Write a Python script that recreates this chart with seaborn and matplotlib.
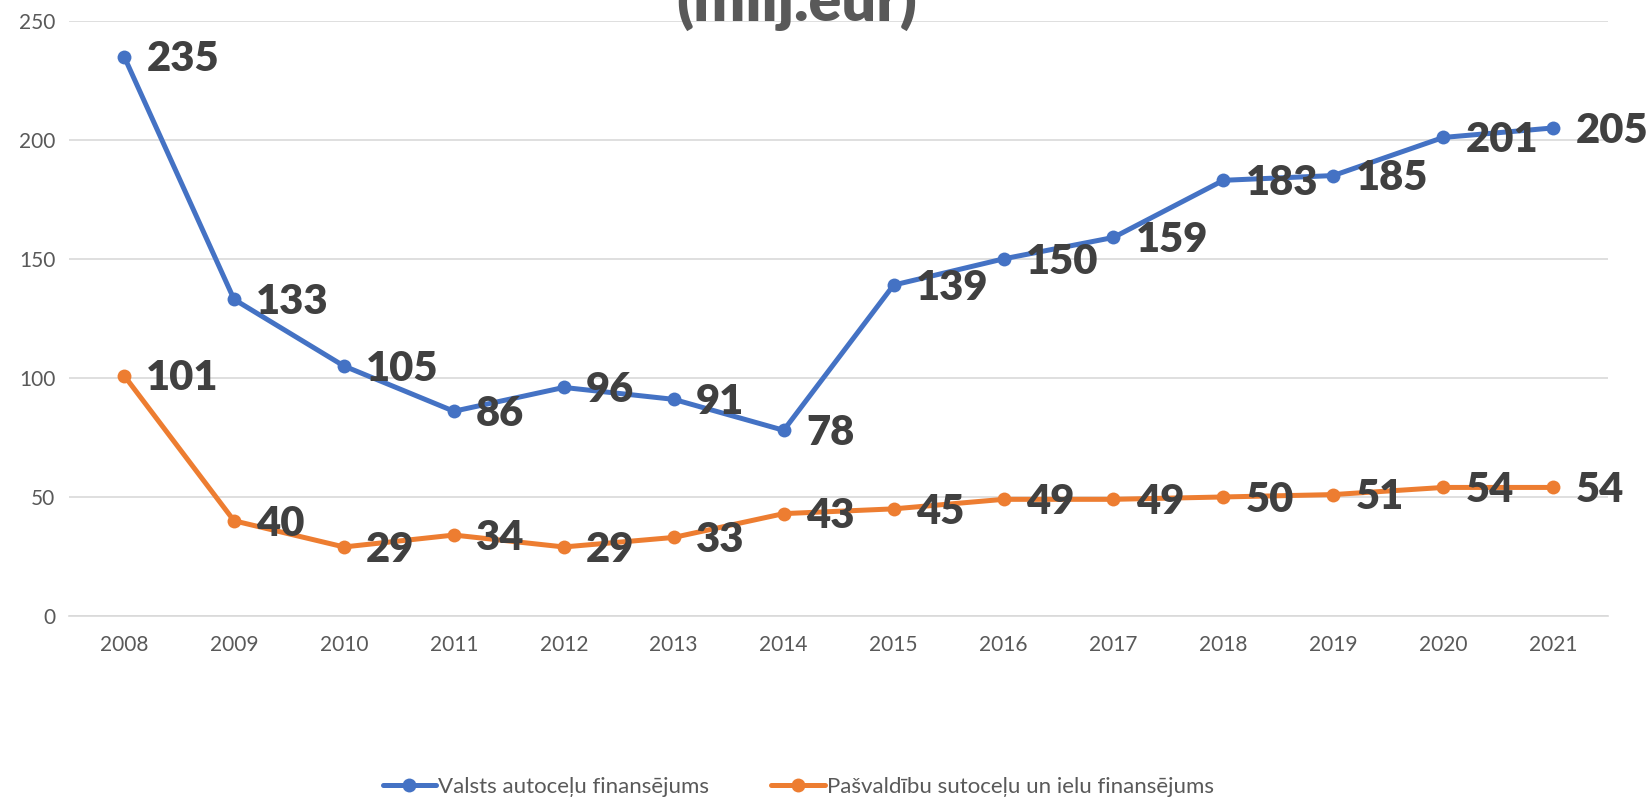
import matplotlib
matplotlib.use("Agg")
import matplotlib.pyplot as plt
import seaborn as sns
import pandas as pd

# Data
years = [2008, 2009, 2010, 2011, 2012, 2013, 2014, 2015, 2016, 2017, 2018, 2019, 2020, 2021]
valsts = [235, 133, 105, 86, 96, 91, 78, 139, 150, 159, 183, 185, 201, 205]
pasvaldibu = [101, 40, 29, 34, 29, 33, 43, 45, 49, 49, 50, 51, 54, 54]
series_names = ["Valsts autoceļu finansējums", "Pašvaldību sutoceļu un ielu finansējums"]
y_ticks = [0, 50, 100, 150, 200, 250]

colors = ["#4472C4", "#ED7D31"]

df = pd.DataFrame({
    "pos": list(range(len(years))) * 2,
    "value": valsts + pasvaldibu,
    "series": [series_names[0]] * len(years) + [series_names[1]] * len(years),
})

sns.set_theme(style="white")
plt.rcParams["font.family"] = ["Lato", "DejaVu Sans"]

fig = plt.figure(figsize=(16.46, 8.0), dpi=100)
ax = fig.add_axes([0.042, 0.23, 0.935, 0.744])

sns.lineplot(data=df, x="pos", y="value", hue="series", palette=colors,
             marker="o", markersize=10, markeredgewidth=0, linewidth=3.6,
             ax=ax, legend=True)

# data labels to the right of each point
for vals in (valsts, pasvaldibu):
    for i, v in enumerate(vals):
        ax.annotate(str(v), (i, v), xytext=(16, -2), textcoords="offset points",
                    ha="left", va="center", fontsize=30, fontweight="heavy",
                    color="#404040")

ax.set_xlim(-0.5, len(years) - 0.5)
ax.set_ylim(0, 250)
ax.set_xticks(range(len(years)))
ax.set_xticklabels([str(y) for y in years])
ax.set_yticks(y_ticks)
ax.tick_params(axis="both", labelsize=15, colors="#595959", length=0, pad=10)
ax.tick_params(axis="x", pad=14)
ax.set_xlabel("")
ax.set_ylabel("")
ax.yaxis.grid(True, color="#D9D9D9", linewidth=1.2)
ax.set_axisbelow(True)
for s in ["top", "right", "left"]:
    ax.spines[s].set_visible(False)
ax.spines["bottom"].set_color("#D9D9D9")
ax.spines["bottom"].set_linewidth(1.2)

handles, labels = ax.get_legend_handles_labels()
ax.legend(handles, labels, loc="center", bbox_to_anchor=(0.485, 0.016),
          bbox_transform=fig.transFigure, ncol=2, frameon=False, fontsize=16,
          labelcolor="#595959", handlelength=2.4, columnspacing=2.8,
          handletextpad=0.1, borderpad=0.2)

# title, partly cut off at the top of the image
fig.text(0.484, 1 - 21 / 800, "(milj.eur)", ha="center", va="baseline",
         fontsize=44, fontweight="heavy", color="#595959")

fig.savefig("out.png", dpi=100)
